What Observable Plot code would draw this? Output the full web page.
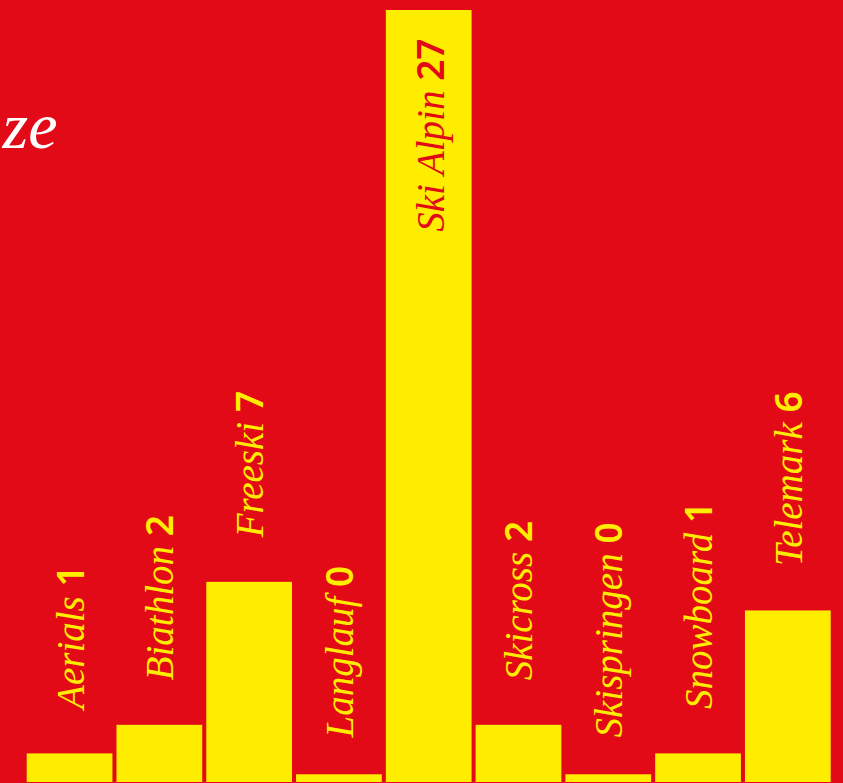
<!DOCTYPE html>
<html>
<head>
<meta charset="utf-8">
<script src="https://cdn.jsdelivr.net/npm/d3@7"></script>
<script src="https://cdn.jsdelivr.net/npm/@observablehq/plot@0.6"></script>
<style>
  html, body { margin: 0; padding: 0; background: #e30a17; overflow: hidden; }
  #chart svg { display: block; }
</style>
</head>
<body>
<div id="chart"></div>
<script>
const disciplines = ["Aerials", "Biathlon", "Freeski", "Langlauf", "Ski Alpin", "Skicross", "Skispringen", "Snowboard", "Telemark"];
const counts = [1, 2, 7, 0, 27, 2, 0, 1, 6];
const titleText = "ze";

const RED = "#e30a17";
const YELLOW = "#ffed00";
const MIN_STUB = 0.27;      // visible stub for zero bars
const INSIDE_FROM = 20;     // labels of taller bars go inside the bar

const data = disciplines.map((name, i) => ({ name, value: counts[i], label: name + " " + counts[i] }));

const chart = Plot.plot({
  width: 843,
  height: 783,
  marginLeft: 26.7,
  marginRight: 12.3,
  marginTop: 10,
  marginBottom: 1,
  style: { background: RED, overflow: "visible" },
  x: { domain: disciplines, paddingInner: 0.045, paddingOuter: 0, round: false, axis: null },
  y: { domain: [0, 27], axis: null },
  marks: [
    Plot.barY(data, { x: "name", y: d => Math.max(d.value, MIN_STUB), fill: YELLOW }),
    Plot.text(data.filter(d => d.value < INSIDE_FROM), {
      x: "name", y: "value", text: "label", rotate: -90,
      textAnchor: "start", lineAnchor: "bottom", dx: 13.5, dy: -45,
      fill: YELLOW, fontSize: 39
    }),
    Plot.text(data.filter(d => d.value >= INSIDE_FROM), {
      x: "name", y: "value", text: "label", rotate: -90,
      textAnchor: "end", lineAnchor: "bottom", dx: 15, dy: 28,
      fill: RED, fontSize: 39
    }),
    Plot.text([titleText], {
      frameAnchor: "top-left", text: d => d, textAnchor: "end", lineAnchor: "bottom",
      dx: 57 - 26.7, dy: 147 - 10, fill: "white", fontSize: 66,
      fontFamily: "Liberation Serif", fontStyle: "italic"
    })
  ]
});

// split label into italic serif name + bold sans number
d3.select(chart).selectAll("text").each(function () {
  const t = this.textContent;
  const m = t.match(/^(.*) (\d+)$/);
  if (!m) return;
  const sel = d3.select(this);
  sel.text(null);
  sel.append("tspan").attr("font-family", "Liberation Serif").attr("font-style", "italic").text(m[1] + " ");
  sel.append("tspan").attr("font-family", "Noto Sans").attr("font-weight", 600).attr("font-size", 37).text(m[2]);
});

document.getElementById("chart").append(chart);
</script>
</body>
</html>
